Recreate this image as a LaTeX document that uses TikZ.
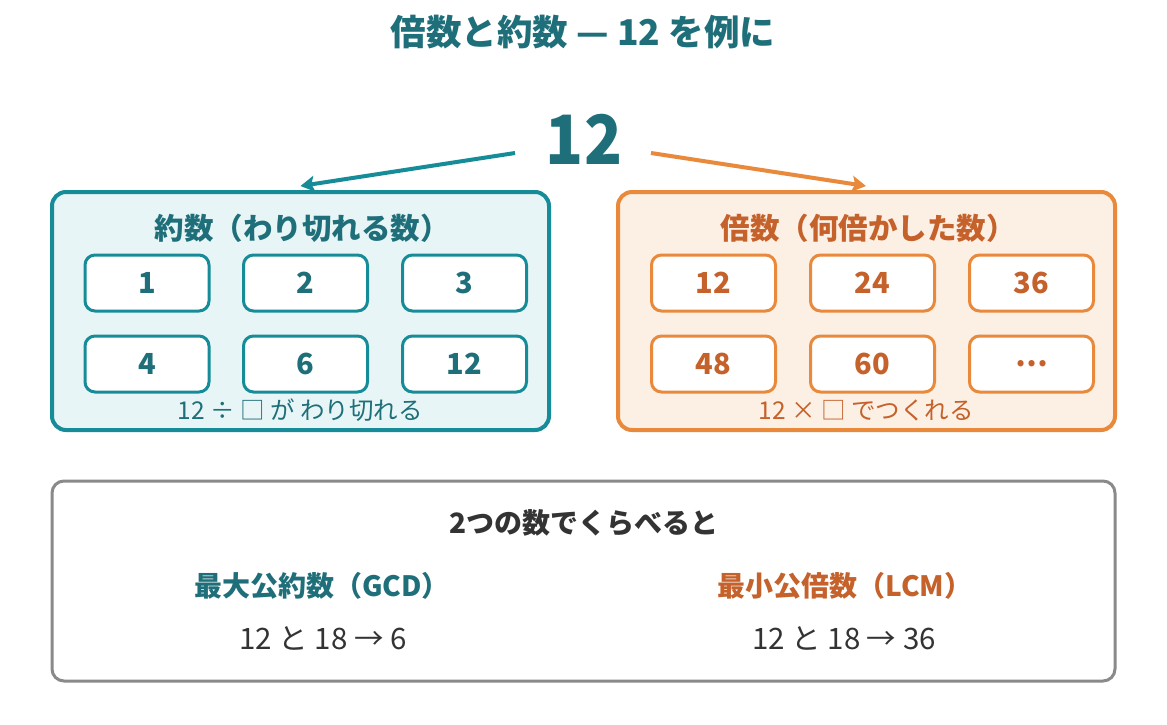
\documentclass[tikz,border=0pt]{standalone}
\usepackage{fontspec}
\setmainfont{Noto Sans CJK JP}
\usetikzlibrary{arrows.meta}
\definecolor{tealtxt}{HTML}{1F6F7A}
\definecolor{tealln}{HTML}{168C98}
\definecolor{tealbg}{HTML}{E8F5F6}
\definecolor{orgtxt}{HTML}{C5612A}
\definecolor{orgln}{HTML}{E8893C}
\definecolor{orgbg}{HTML}{FCEFE3}
\definecolor{graytxt}{HTML}{333333}
\definecolor{grayln}{HTML}{8A8A8A}
\tikzset{
  x=1pt,y=-1pt,
  panel/.style={rounded corners=14pt, line width=4pt},
  cell/.style={rounded corners=10pt, line width=3pt, fill=white, minimum width=124pt, minimum height=56pt, inner sep=0pt, font=\fontsize{29}{33}\selectfont\bfseries},
  tcell/.style={cell, draw=tealln, text=tealtxt},
  ocell/.style={cell, draw=orgln, text=orgtxt},
  head/.style={inner sep=0pt, font=\fontsize{29.5}{34}\selectfont\bfseries},
  sub/.style={inner sep=0pt, font=\fontsize{28}{32}\selectfont\bfseries},
  captxt/.style={inner sep=0pt, font=\fontsize{24.5}{28}\selectfont},
  extxt/.style={inner sep=0pt, font=\fontsize{29.5}{33}\selectfont},
  arr/.style={line width=4pt, -{Stealth[length=14pt,width=16pt,inset=3pt]}},
}
\begin{document}
\begin{tikzpicture}
\useasboundingbox[fill=white] (0,0) rectangle (1167,724);
% title
\node[inner sep=0pt, text=tealtxt, font=\fontsize{35.5}{40}\selectfont\bfseries] (title) at (583,32) {倍数と約数 — 12 を例に};
\node[inner sep=0pt, text=tealtxt, font=\fontsize{68}{76}\selectfont\bfseries, xscale=0.92] (twelve) at (584,139) {12};
% panels
\draw[panel, draw=tealln, fill=tealbg] (52,192) rectangle (549,430);
\draw[panel, draw=orgln, fill=orgbg] (618,192) rectangle (1115,430);
\coordinate (ls) at (515,153);
\coordinate (le) at (300.5,186);
\coordinate (rs) at (651,153);
\coordinate (re) at (866,186);
\draw[arr, draw=tealln, fill=tealln] (ls) -- (le);
\draw[arr, draw=orgln, fill=orgln] (rs) -- (re);
\node[head, text=tealtxt] (lhead) at (302,228) {約数（わり切れる数）};
\node[head, text=orgtxt] (rhead) at (868,228) {倍数（何倍かした数）};
% left cells
\node[tcell] (l1) at (147,283) {1};
\node[tcell] (l2) at (305.5,283) {2};
\node[tcell] (l3) at (464.5,283) {3};
\node[tcell] (l4) at (147,364) {4};
\node[tcell] (l6) at (305.5,364) {6};
\node[tcell] (l12) at (464.5,364) {12};
% right cells
\node[ocell] (r12) at (713.5,283) {12};
\node[ocell] (r24) at (872.5,283) {24};
\node[ocell] (r36) at (1031.5,283) {36};
\node[ocell] (r48) at (713.5,364) {48};
\node[ocell] (r60) at (872.5,364) {60};
\node[ocell] (rdots) at (1031.5,364) {…};
% captions
\node[captxt, text=tealtxt] (lcap) at (300,410) {12 ÷ □ が わり切れる};
\node[captxt, text=orgtxt] (rcap) at (866,410) {12 × □ でつくれる};
% bottom
\draw[rounded corners=12pt, line width=3pt, draw=grayln, fill=white] (52,481) rectangle (1115,681);
\node[sub, text=graytxt] (cmp) at (584,523) {2つの数でくらべると};
\node[sub, text=tealtxt] (gcd) at (322,586) {最大公約数（GCD）};
\node[sub, text=orgtxt] (lcm) at (845,586) {最小公倍数（LCM）};
\node[extxt, text=graytxt] (gex) at (323,638) {12 と 18 → 6};
\node[extxt, text=graytxt] (lex) at (844,638) {12 と 18 → 36};
\end{tikzpicture}
\end{document}
